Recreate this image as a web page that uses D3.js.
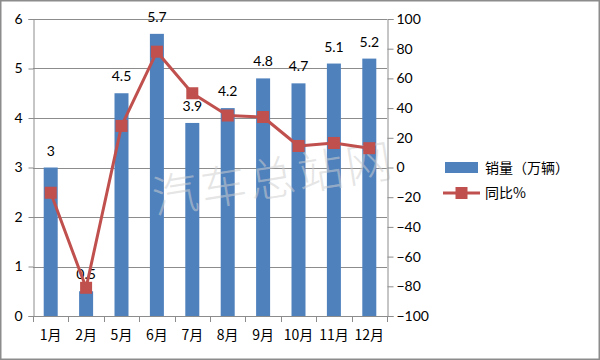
<!DOCTYPE html>
<html><head><meta charset="utf-8">
<script src="https://cdn.jsdelivr.net/npm/d3@7"></script>
<style>
html,body{margin:0;padding:0;background:#fff;}
svg{display:block;}
text{font-family:"Noto Sans CJK SC","Noto Sans",sans-serif;fill:#000;}
</style></head>
<body><svg id="c" width="600" height="360"></svg>
<script>
const categories = ["1月","2月","5月","6月","7月","8月","9月","10月","11月","12月"];
const sales = [3, 0.5, 4.5, 5.7, 3.9, 4.2, 4.8, 4.7, 5.1, 5.2];
const yoy = [-17, -81, 28, 78, 50, 35, 34, 14.5, 16.5, 13];
const leftTicks = [0,1,2,3,4,5,6];
const rightTicks = [-100,-80,-60,-40,-20,0,20,40,60,80,100];
const seriesNames = ["销量（万辆）","同比%"];

const svg = d3.select("#c");
const L = 33, R = 387, T = 19, B = 316;
const barColor = "#4F81BD", lineColor = "#C0504D", gridColor = "#8c8c8c";

svg.append("rect").attr("x",0.75).attr("y",0.75).attr("width",598.5).attr("height",358.5)
  .attr("fill","#fff").attr("stroke","#8c8c8c").attr("stroke-width",1.5);

const x = d3.scaleBand().domain(categories).range([L,R]).paddingInner(0).paddingOuter(0);
const yL = d3.scaleLinear().domain([0,6]).range([B,T]);
const yR = d3.scaleLinear().domain([-100,100]).range([B,T]);

// gridlines
svg.append("g").selectAll("line").data(leftTicks).join("line")
  .attr("x1",L).attr("x2",R).attr("y1",d=>Math.round(yL(d))+0.5).attr("y2",d=>Math.round(yL(d))+0.5)
  .attr("stroke",gridColor).attr("stroke-width",1);

// bars
const bw = 14;
svg.append("g").selectAll("rect").data(sales).join("rect")
  .attr("x",(d,i)=>x(categories[i])+x.bandwidth()/2-bw/2)
  .attr("y",d=>yL(d)).attr("width",bw).attr("height",d=>B-yL(d))
  .attr("fill",barColor);

// watermark
svg.append("text").attr("transform","translate(276,195) rotate(-9)")
  .attr("text-anchor","middle").style("font-size","46px").style("font-weight","300")
  .style("fill","#cfcfcf").style("fill-opacity",0.55).style("letter-spacing","3px").text("汽车总站网");

// axes
const gl = svg.append("g").attr("transform",`translate(${L+0.5},0)`)
  .call(d3.axisLeft(yL).tickValues(leftTicks).tickSize(5).tickPadding(6).tickFormat(d3.format("d")));
const gr = svg.append("g").attr("transform",`translate(${R+0.5},0)`)
  .call(d3.axisRight(yR).tickValues(rightTicks).tickSize(6).tickPadding(3).tickFormat(d3.format("d")));
const gx = svg.append("g").attr("transform",`translate(0,${B+0.5})`)
  .call(d3.axisBottom(x).tickSize(0).tickPadding(14));
[gl,gr,gx].forEach(g=>{
  g.select(".domain").attr("stroke",gridColor);
  g.selectAll(".tick line").attr("stroke",gridColor);
  g.selectAll("text").style("font-size","14px").style("fill","#000")
    .style("font-family","Lato,'Noto Sans CJK SC',sans-serif");
});
gx.select(".domain").attr("d",`M${L},0H${R}`);
gx.selectAll("text").style("font-family","'Noto Sans CJK SC',sans-serif").style("font-size","14px");
// x band ticks
const edges = categories.map(c=>x(c)).concat([R]);
svg.append("g").selectAll("line").data(edges).join("line")
  .attr("x1",d=>Math.round(d)+0.5).attr("x2",d=>Math.round(d)+0.5)
  .attr("y1",B).attr("y2",B+6).attr("stroke",gridColor);

// bar labels
svg.append("g").selectAll("text").data(sales).join("text")
  .attr("x",(d,i)=>x(categories[i])+x.bandwidth()/2)
  .attr("y",d=>yL(d)-12).attr("text-anchor","middle")
  .style("font-size","14px").style("font-family","Lato,'Noto Sans CJK SC',sans-serif")
  .text(d=>d);

// line
const line = d3.line().x((d,i)=>x(categories[i])+x.bandwidth()/2).y(d=>yR(d));
svg.append("path").datum(yoy).attr("d",line).attr("fill","none")
  .attr("stroke",lineColor).attr("stroke-width",3).attr("stroke-linejoin","round");
const ms = 12;
svg.append("g").selectAll("rect").data(yoy).join("rect")
  .attr("x",(d,i)=>x(categories[i])+x.bandwidth()/2-ms/2).attr("y",d=>yR(d)-ms/2)
  .attr("width",ms).attr("height",ms).attr("fill",lineColor);

// legend
const lg = svg.append("g");
lg.append("rect").attr("x",445).attr("y",162).attr("width",33).attr("height",11).attr("fill",barColor);
lg.append("text").attr("x",485).attr("y",172.5).style("font-size","14px").text(seriesNames[0]);
lg.append("line").attr("x1",443).attr("x2",480).attr("y1",193).attr("y2",193)
  .attr("stroke",lineColor).attr("stroke-width",3);
lg.append("rect").attr("x",455.5).attr("y",187).attr("width",12).attr("height",12).attr("fill",lineColor);
lg.append("text").attr("x",485).attr("y",198).style("font-size","14px").text(seriesNames[1]);
</script></body></html>
